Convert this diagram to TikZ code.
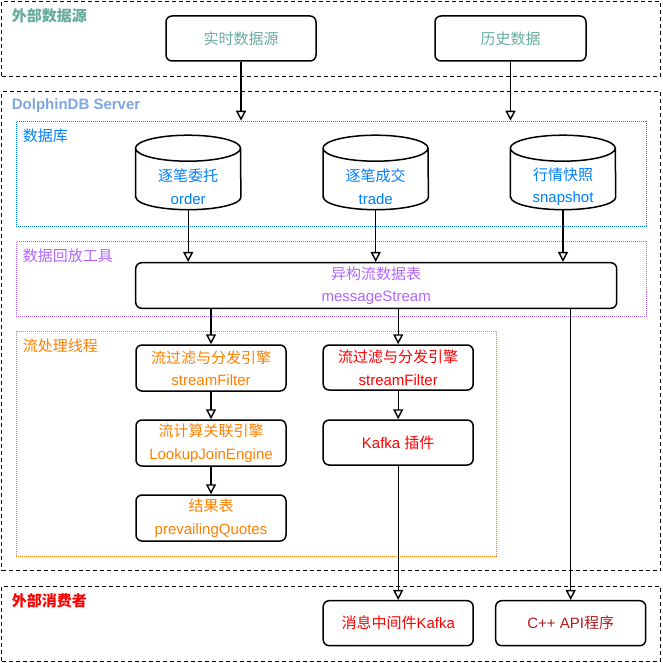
\documentclass[tikz,border=0pt]{standalone}
\usepackage{fontspec}
\setmainfont{Liberation Sans}
\newfontfamily\cjk{Noto Sans CJK SC}
\usetikzlibrary{arrows.meta}
\definecolor{srcgreen}{HTML}{67AB9F}
\definecolor{srvblue}{HTML}{7EA6E0}
\definecolor{dbblue}{HTML}{007FFF}
\definecolor{replay}{HTML}{B266FF}
\definecolor{procorange}{HTML}{FF8000}
\definecolor{outred}{HTML}{FF0000}
\definecolor{apired}{HTML}{B31B1B}
\begin{document}
\begin{tikzpicture}[x=1pt, y=-1pt,
  box/.style={draw, line width=1.5pt, rounded corners=6pt, align=center, minimum width=150pt, minimum height=45pt, inner sep=0pt, font=\fontsize{15}{22.5}\selectfont},
  cyl/.style={minimum width=105pt, minimum height=45.6pt, inner sep=0pt, align=center, text=dbblue, font=\fontsize{15}{22.5}\selectfont},
  outer/.style={draw, dash pattern=on 4pt off 3pt, line width=1.3pt, anchor=north west, inner sep=0pt},
  zone/.style={draw, dash pattern=on 1pt off 1pt, line width=1pt, anchor=north west, inner sep=0pt},
  grp/.style={anchor=west, inner sep=0pt, font=\fontsize{15}{18}\selectfont},
  arr/.style={-{Triangle[open, length=10pt, width=10pt]}, line width=1.4pt}]
\useasboundingbox (0,0) rectangle (662,663);
\node[outer, minimum width=659pt, minimum height=74.7pt] (ext) at (1,1) {};
\node[outer, minimum width=659pt, minimum height=479pt] (srv) at (1,91) {};
\node[outer, minimum width=659pt, minimum height=74.7pt] (cons) at (1,586) {};
\node[zone, draw=dbblue, minimum width=630.3pt, minimum height=105pt] (dbzone) at (15.7,120.7) {};
\node[zone, draw=replay, minimum width=630.3pt, minimum height=75pt] (rpzone) at (15.7,240.7) {};
\node[zone, draw=procorange, minimum width=480.3pt, minimum height=225pt] (pzone) at (15.7,330.5) {};
\node[grp, text=srcgreen] (lext) at (11.7,16) {\bfseries\cjk 外部数据源};
\node[grp, text=srvblue] (lsrv) at (11.7,106) {\bfseries DolphinDB Server};
\node[grp, text=dbblue] (ldb) at (22.7,136) {\cjk 数据库};
\node[grp, text=replay] (lrp) at (22.7,255.7) {\cjk 数据回放工具};
\node[grp, text=procorange] (lp) at (22.7,346) {\cjk 流处理线程};
\node[grp, text=outred] (lcons) at (11.7,601) {\bfseries\cjk 外部消费者};
\node[box, text=srcgreen] (rt) at (241,38.5) {\cjk 实时数据源};
\node[box, text=srcgreen, minimum width=151pt] (hist) at (510.5,38.5) {\cjk 历史数据};
\node[cyl] (order) at (188.2,186.7) {{\cjk 逐笔委托}\\order};
\node[cyl] (trade) at (375.7,186.7) {{\cjk 逐笔成交}\\trade};
\node[cyl] (snap) at (563,186.7) {{\cjk 行情快照}\\snapshot};
\foreach \c in {order,trade,snap}
  \draw[line width=1.5pt] ([yshift=12.5pt]\c.south west) -- ([yshift=61.5pt]\c.south west)
    arc[start angle=180, end angle=0, x radius=52.5pt, y radius=13pt]
    -- ([yshift=12.5pt]\c.south east)
    arc[start angle=0, end angle=-180, x radius=52.5pt, y radius=12.5pt] -- cycle
    ([yshift=61.5pt]\c.south west) arc[start angle=180, end angle=360, x radius=52.5pt, y radius=13pt];
\node[box, text=replay, minimum width=481pt, minimum height=45.6pt] (ms) at (376.2,285.5) {{\cjk 异构流数据表}\\messageStream};
\node[box, text=procorange, minimum height=46pt] (sf1) at (211,368) {{\cjk 流过滤与分发引擎}\\streamFilter};
\node[box, text=outred] (sf2) at (398.2,367.5) {{\cjk 流过滤与分发引擎}\\streamFilter};
\node[box, text=procorange, minimum height=46pt] (lj) at (211,443) {{\cjk 流计算关联引擎}\\LookupJoinEngine};
\node[box, text=outred] (kp) at (398.2,442.5) {Kafka {\cjk 插件}};
\node[box, text=procorange, minimum height=46pt] (pq) at (211,518) {{\cjk 结果表}\\prevailingQuotes};
\node[box, text=outred] (kafka) at (398.2,623.2) {{\cjk 消息中间件}Kafka};
\node[box, text=apired] (api) at (570.7,623.2) {C++ API{\cjk 程序}};
\draw[arr] (rt.south) -- (rt.south |- dbzone.north);
\draw[arr] (hist.south) -- (hist.south |- dbzone.north);
\draw[arr] (order.south) -- (order.south |- ms.north);
\draw[arr] (trade.south) -- (trade.south |- ms.north);
\draw[arr] (snap.south) -- (snap.south |- ms.north);
\draw[arr] (ms.south -| sf1.north) -- (sf1.north);
\draw[arr] (ms.south -| sf2.north) -- (sf2.north);
\draw[arr] (ms.south -| api.north) -- (api.north);
\draw[arr] (sf1) -- (lj);
\draw[arr] (lj) -- (pq);
\draw[arr] (sf2) -- (kp);
\draw[arr] (kp) -- (kafka);
\end{tikzpicture}
\end{document}
